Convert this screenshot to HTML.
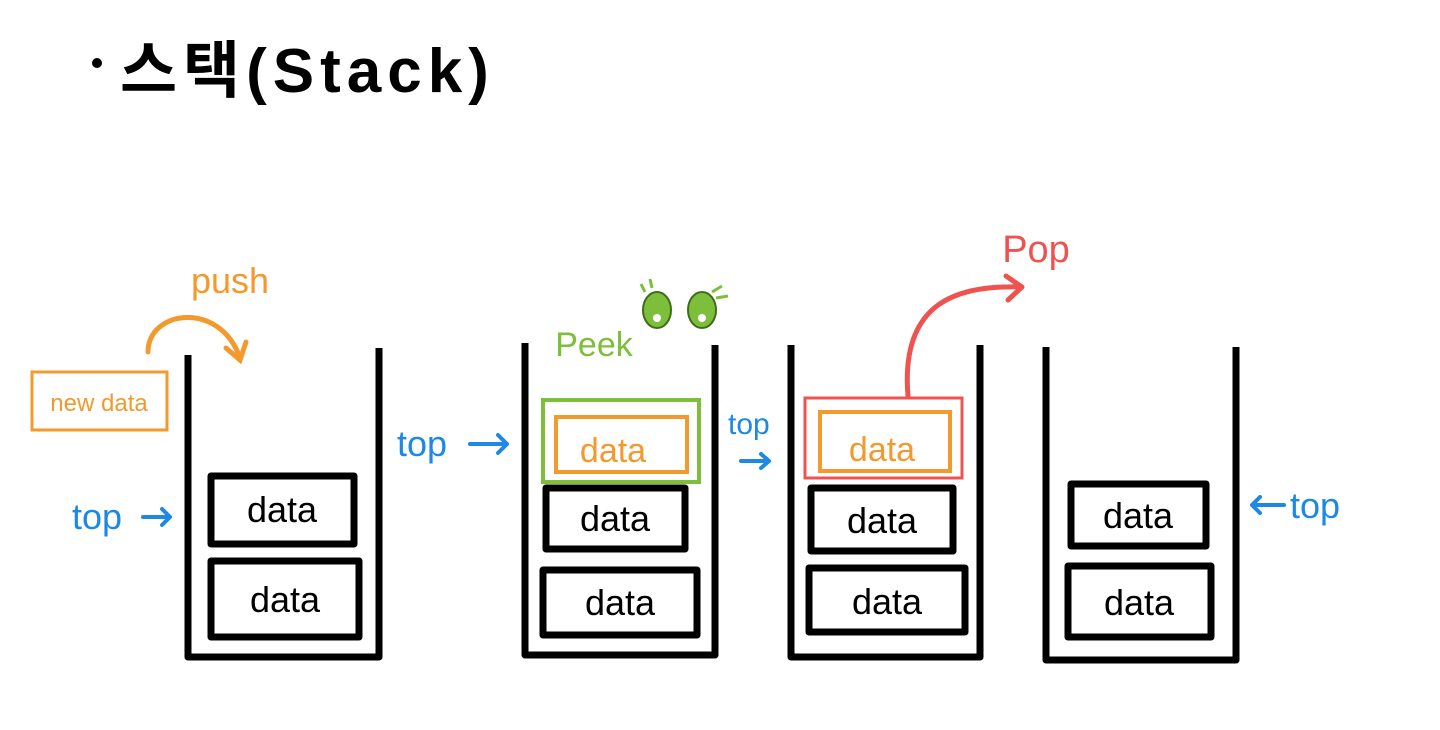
<!DOCTYPE html>
<html><head><meta charset="utf-8"><style>
html,body{margin:0;padding:0;background:#fff;width:1440px;height:730px;overflow:hidden}
svg{display:block}
text{font-family:"Liberation Sans","Noto Sans CJK KR",sans-serif}
</style></head><body>
<svg width="1440" height="730" viewBox="0 0 1440 730" xmlns="http://www.w3.org/2000/svg">
<!-- title -->
<circle cx="97" cy="63" r="5" fill="#000"/>
<text x="120" y="92" font-size="62" font-weight="bold" fill="#000" letter-spacing="6">스택(Stack)</text>

<g fill="none" stroke="#000" stroke-width="7" stroke-linejoin="round">
<path d="M188,355 V657 H379 V348"/>
<rect x="211" y="476" width="143" height="68"/>
<rect x="211" y="561" width="148" height="76"/>
<path d="M525,343 V655 H715 V345"/>
<rect x="546" y="488" width="139" height="61"/>
<rect x="543" y="570" width="154" height="65"/>
<path d="M791,345 V657 H980 V345"/>
<rect x="811" y="488" width="142" height="63"/>
<rect x="809" y="568" width="156" height="64"/>
<path d="M1046,347 V660 H1236 V347"/>
<rect x="1071" y="484" width="135" height="62"/>
<rect x="1068" y="566" width="143" height="71"/>
</g>

<g font-size="36" fill="#000" text-anchor="middle">
<text x="282" y="522">data</text>
<text x="285" y="612">data</text>
<text x="615" y="531">data</text>
<text x="620" y="615">data</text>
<text x="882" y="533">data</text>
<text x="887" y="614">data</text>
<text x="1138" y="528">data</text>
<text x="1139" y="615">data</text>
</g>

<rect x="32" y="372" width="135" height="58" fill="none" stroke="#f29a2e" stroke-width="3"/>
<text x="99" y="411" font-size="24" fill="#f29a2e" text-anchor="middle">new data</text>
<text x="230" y="293" font-size="36" fill="#f29a2e" text-anchor="middle">push</text>
<path d="M148,352 C148,310 220,300 240,358" fill="none" stroke="#f29a2e" stroke-width="5" stroke-linecap="round"/>
<path d="M226,348 L240,360 L246,342" fill="none" stroke="#f29a2e" stroke-width="5" stroke-linecap="round"/>

<rect x="543" y="400" width="156" height="82" fill="none" stroke="#7dbf3b" stroke-width="4"/>
<rect x="556" y="417" width="131" height="55" fill="none" stroke="#f29a2e" stroke-width="4"/>
<text x="613" y="462" font-size="34" fill="#f29a2e" text-anchor="middle">data</text>
<text x="594" y="356" font-size="34" fill="#7dbf3b" text-anchor="middle">Peek</text>
<ellipse cx="657" cy="310" rx="14" ry="18" fill="#7dbf3b" stroke="#3f6d1a" stroke-width="2"/>
<ellipse cx="702" cy="310" rx="14" ry="18" fill="#7dbf3b" stroke="#3f6d1a" stroke-width="2"/>
<circle cx="657" cy="318" r="4" fill="#fff"/><circle cx="702" cy="318" r="4" fill="#fff"/>
<path d="M645,292 l-4,-8 M652,288 l-2,-9 M712,292 l10,-6 M716,298 l12,-2" stroke="#7dbf3b" stroke-width="3"/>

<rect x="805" y="398" width="157" height="80" fill="none" stroke="#ef5350" stroke-width="3"/>
<rect x="820" y="412" width="130" height="59" fill="none" stroke="#f29a2e" stroke-width="4"/>
<text x="882" y="461" font-size="34" fill="#f29a2e" text-anchor="middle">data</text>
<path d="M908,396 C900,300 960,285 1020,287" fill="none" stroke="#ef5350" stroke-width="5" stroke-linecap="round"/>
<path d="M1006,276 L1022,287 L1008,300" fill="none" stroke="#ef5350" stroke-width="5" stroke-linecap="round" stroke-linejoin="round"/>
<text x="1036" y="262" font-size="38" fill="#ef5350" text-anchor="middle">Pop</text>

<g fill="#1e88e5" font-size="36">
<text x="72" y="529">top</text>
<text x="397" y="456">top</text>
<text x="728" y="434" font-size="30">top</text>
<text x="1290" y="518">top</text>
</g>
<g fill="none" stroke="#1e88e5" stroke-width="4" stroke-linecap="round" stroke-linejoin="round">
<path d="M143,517 H170 M162,509 L170,517 L162,525"/>
<path d="M470,444 H507 M498,435 L507,444 L498,453"/>
<path d="M741,461 H769 M761,454 L769,461 L761,468"/>
<path d="M1252,505 H1284 M1260,497 L1252,505 L1260,513"/>
</g>
</svg>
</body></html>
